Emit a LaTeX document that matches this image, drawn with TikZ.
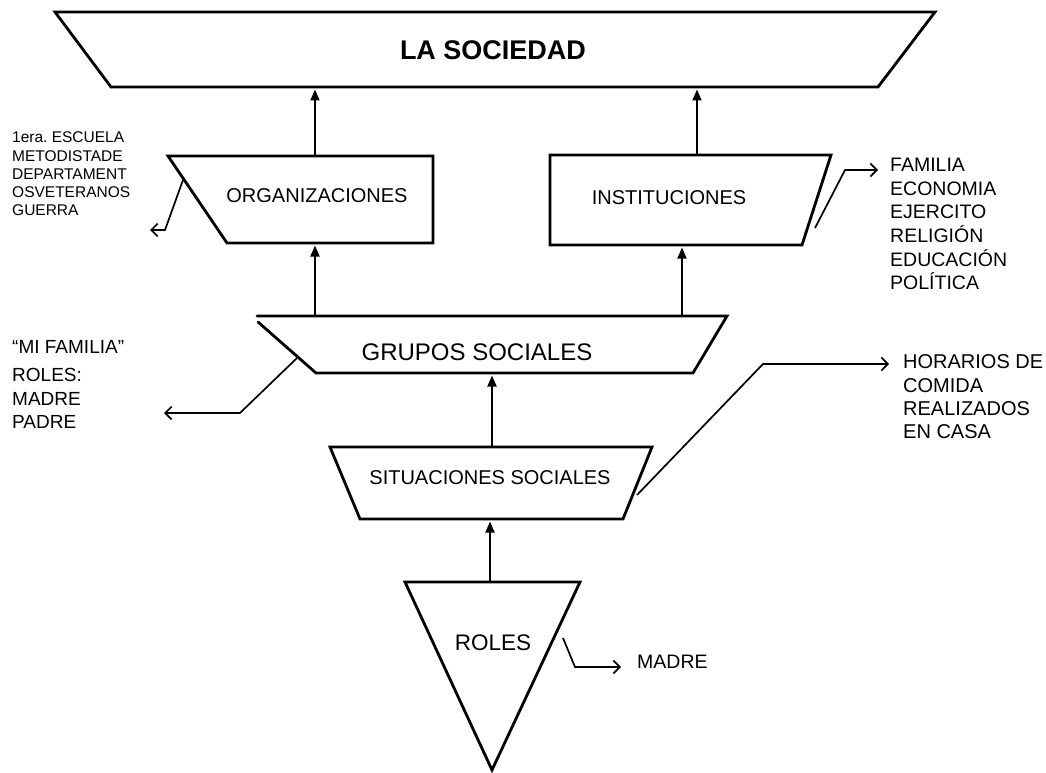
\documentclass[tikz,border=0pt]{standalone}
\usepackage{fontspec}
\setmainfont{Liberation Sans}
\usetikzlibrary{arrows.meta}
\frenchspacing
\begin{document}
\begin{tikzpicture}[x=1pt,y=-1pt,
  shapeline/.style={line width=2.8pt, line join=miter, line cap=round},
  uparrow/.style={line width=1.8pt, -{Triangle[width=9pt,length=11pt]}},
  callout/.style={line width=1.7pt, -{Straight Barb[length=6.5pt,width=13pt,line width=1.7pt]}},
  lbl/.style={inner sep=0pt, align=left, anchor=west},
  ttl/.style={inner sep=0pt}
]
\useasboundingbox (0,0) rectangle (1046,773);

% ---------- shapes ----------
% La sociedad
\coordinate (s1) at (55,12);  \coordinate (s2) at (935,12);
\coordinate (s3) at (878,87); \coordinate (s4) at (111,87);
\draw[shapeline] (s1) -- (s2) -- (s3) -- (s4) -- cycle;
\node[ttl, font=\fontsize{27}{30}\selectfont\bfseries] (soc) at (493,50) {LA SOCIEDAD};

% Organizaciones
\coordinate (o1) at (168,156); \coordinate (o2) at (433,156);
\coordinate (o3) at (433,243); \coordinate (o4) at (227,243);
\draw[shapeline] (o1) -- (o2) -- (o3) -- (o4) -- cycle;
\node[ttl, font=\fontsize{20}{22}\selectfont] (org) at (317,196) {ORGANIZACIONES};

% Instituciones
\coordinate (i1) at (550,155); \coordinate (i2) at (831,155);
\coordinate (i3) at (802,245); \coordinate (i4) at (550,245);
\draw[shapeline] (i1) -- (i2) -- (i3) -- (i4) -- cycle;
\node[ttl, font=\fontsize{20}{22}\selectfont] (inst) at (669,198) {INSTITUCIONES};

% Grupos sociales
\coordinate (g0) at (258,322); \coordinate (g1) at (257,316);
\coordinate (g2) at (727,316); \coordinate (g3) at (693,373);
\coordinate (g4) at (316,373);
\draw[shapeline] (g0) -- (g4) -- (g3) -- (g2) -- (g1);
\node[ttl, font=\fontsize{24}{26}\selectfont] (grp) at (477,352) {GRUPOS SOCIALES};

% Situaciones sociales
\coordinate (t1) at (330,447); \coordinate (t2) at (652,447);
\coordinate (t3) at (623,519); \coordinate (t4) at (360,519);
\draw[shapeline] (t1) -- (t2) -- (t3) -- (t4) -- cycle;
\node[ttl, font=\fontsize{20}{22}\selectfont] (sit) at (490,478) {SITUACIONES SOCIALES};

% Roles
\coordinate (r1) at (405,582); \coordinate (r2) at (580,582);
\coordinate (r3) at (492,770);
\draw[shapeline] (r1) -- (r2) -- (r3) -- cycle;
\node[ttl, font=\fontsize{22.5}{24}\selectfont] (rol) at (493,643) {ROLES};

% ---------- vertical arrows ----------
\coordinate (socA) at (315,89.5);  \coordinate (orgT) at (315,156);
\coordinate (socB) at (697,89.5);  \coordinate (instT) at (697,155);
\coordinate (orgB) at (315,245.5); \coordinate (grpTa) at (315,316);
\coordinate (instB) at (682,247.5);\coordinate (grpTb) at (682,316);
\coordinate (grpB) at (492,375.5); \coordinate (sitT) at (492,447);
\coordinate (sitB) at (490,521.5); \coordinate (rolT) at (490,582);
\draw[uparrow] (orgT) -- (socA);
\draw[uparrow] (instT) -- (socB);
\draw[uparrow] (grpTa) -- (orgB);
\draw[uparrow] (grpTb) -- (instB);
\draw[uparrow] (sitT) -- (grpB);
\draw[uparrow] (rolT) -- (sitB);

% ---------- side labels ----------
\node[lbl, font=\fontsize{15.5}{18.2}\selectfont] (orgL) at (12,174)
  {1era. ESCUELA\\METODISTADE\\DEPARTAMENT\\OSVETERANOS\\GUERRA};
\node[lbl, font=\fontsize{19.5}{23.6}\selectfont] (instL) at (890,224)
  {FAMILIA\\ECONOMIA\\EJERCITO\\RELIGIÓN\\EDUCACIÓN\\POLÍTICA};
\node[lbl, font=\fontsize{19}{22}\selectfont] (grpL1) at (12,347) {“MI FAMILIA”};
\node[lbl, font=\fontsize{19}{23.5}\selectfont] (grpL2) at (12,398.5)
  {ROLES:\\MADRE\\PADRE};
\node[lbl, font=\fontsize{20}{23.3}\selectfont] (sitL) at (903,397)
  {HORARIOS DE\\COMIDA\\REALIZADOS\\EN CASA};
\node[lbl, font=\fontsize{19.5}{22}\selectfont] (rolL) at (637,662) {MADRE};

% ---------- callouts ----------
\coordinate (co1) at (183,180); \coordinate (co1b) at (165,230);
\coordinate (co1c) at (150,230);
\draw[callout] (co1) -- (co1b) -- (co1c);
\coordinate (ci1) at (815,228); \coordinate (ci1b) at (845,170);
\coordinate (ci1c) at (878,170);
\draw[callout] (ci1) -- (ci1b) -- (ci1c);
\coordinate (cg1) at (297,358); \coordinate (cg1b) at (240,413);
\coordinate (cg1c) at (164,413);
\draw[callout] (cg1) -- (cg1b) -- (cg1c);
\coordinate (cs1) at (637,495); \coordinate (cs1b) at (763,364);
\coordinate (cs1c) at (889,364);
\draw[callout] (cs1) -- (cs1b) -- (cs1c);
\coordinate (cr1) at (563,638); \coordinate (cr1b) at (575,667);
\coordinate (cr1c) at (621,667);
\draw[callout] (cr1) -- (cr1b) -- (cr1c);
\end{tikzpicture}
\end{document}
